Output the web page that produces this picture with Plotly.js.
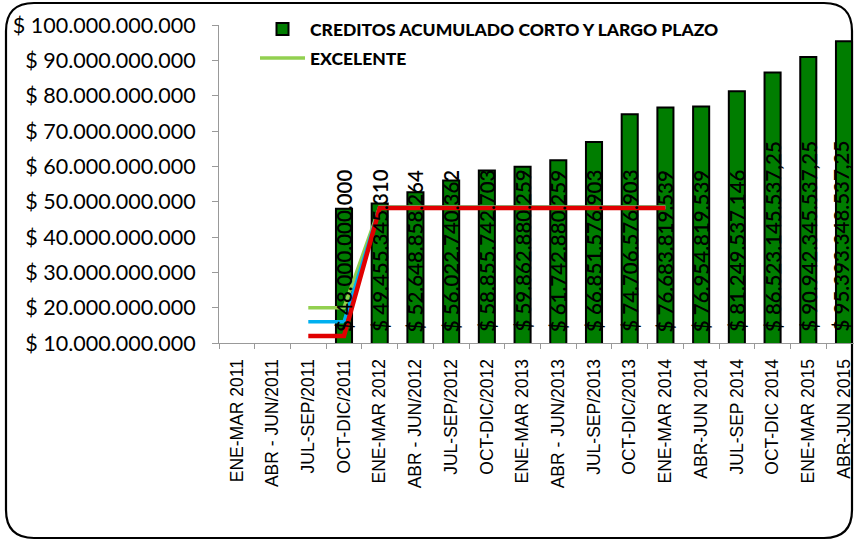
<!DOCTYPE html>
<html>
<head>
<meta charset="utf-8">
<script src="https://cdn.plot.ly/plotly-3.0.1.min.js"></script>
<style>
  body { margin: 0; background: #fff; }
  #chart { width: 854px; height: 540px; }
</style>
</head>
<body>
<div id="chart"></div>
<script>
// periodos (eje x)
const periodos = ["ENE-MAR 2011", "ABR - JUN/2011", "JUL-SEP/2011", "OCT-DIC/2011",
    "ENE-MAR 2012", "ABR - JUN/2012", "JUL-SEP/2012", "OCT-DIC/2012",
    "ENE-MAR 2013", "ABR - JUN/2013", "JUL-SEP/2013", "OCT-DIC/2013",
    "ENE-MAR 2014", "ABR-JUN 2014", "JUL-SEP 2014", "OCT-DIC 2014",
    "ENE-MAR 2015", "ABR-JUN 2015"];

// creditos acumulados corto y largo plazo (barras)
const creditos = [null, null, null, 48000000000,
    49455345310, 52648858264, 56022740362, 58855742703,
    59862880259, 61742880259, 66851576903, 74706576903,
    76683819539, 76954819539, 81249537146, 86523145537.25,
    90942345537.25, 95393348537.25];

// lineas de referencia (JUL-SEP/2011 a ENE-MAR 2014)
const periodosLinea = periodos.slice(2, 13);
const excelente = [20000000000, 20000000000, 48500000000, 48500000000, 48500000000, 48500000000,
    48500000000, 48500000000, 48500000000, 48500000000, 48500000000];
const bueno = [16000000000, 16000000000, 48350000000, 48350000000, 48350000000, 48350000000,
    48350000000, 48350000000, 48350000000, 48350000000, 48350000000];
const regular = [12000000000, 12000000000, 48200000000, 48200000000, 48200000000, 48200000000,
    48200000000, 48200000000, 48200000000, 48200000000, 48200000000];

// eje y
const yMin = 10000000000;
const yMax = 100000000000;
const yTicks = [10e9, 20e9, 30e9, 40e9, 50e9, 60e9, 70e9, 80e9, 90e9, 100e9];

// formato "$ 86.523.145.537,25"
function pesos(v) {
    let ent = Math.floor(v);
    let dec = Math.round((v - ent) * 100);
    let s = ent.toString().replace(/\B(?=(\d{3})+(?!\d))/g, ".");
    if (dec > 0) s += "," + (dec < 10 ? "0" + dec : dec);
    return "$ " + s;
}

const W = 854, H = 540;
const mL = 219, mR = 0, mT = 25, mB = 197;
const pw = W - mL - mR, ph = H - mT - mB;
// pixel -> paper
const px = (x) => (x - mL) / pw;
const py = (y) => (H - mB - y) / ph;

// marco redondeado del grafico
function marco(x0, y0, x1, y1, r) {
    return "M" + px(x0 + r) + "," + py(y0) +
        " L" + px(x1 - r) + "," + py(y0) +
        " Q" + px(x1) + "," + py(y0) + " " + px(x1) + "," + py(y0 + r) +
        " L" + px(x1) + "," + py(y1 - r) +
        " Q" + px(x1) + "," + py(y1) + " " + px(x1 - r) + "," + py(y1) +
        " L" + px(x0 + r) + "," + py(y1) +
        " Q" + px(x0) + "," + py(y1) + " " + px(x0) + "," + py(y1 - r) +
        " L" + px(x0) + "," + py(y0 + r) +
        " Q" + px(x0) + "," + py(y0) + " " + px(x0 + r) + "," + py(y0) + " Z";
}

// etiquetas de las barras (verticales, desde la base)
let etiquetas = [];
for (let i = 0; i < periodos.length; i++) {
    if (creditos[i] === null) continue;
    etiquetas.push({
        x: periodos[i], y: yMin, xref: 'x', yref: 'y',
        text: pesos(creditos[i]), textangle: -90,
        showarrow: false, xanchor: 'center', yanchor: 'bottom', yshift: 9,
        xshift: (i === periodos.length - 1) ? -4 : 0,  // la ultima queda pegada al borde
        font: { family: 'Lato, sans-serif', size: 20.5, color: '#000', weight: 600 }
    });
}

const data = [{
    type: 'bar',
    x: periodos,
    y: creditos,
    name: 'CREDITOS ACUMULADO CORTO Y LARGO PLAZO',
    marker: { color: '#007D00', line: { color: '#000', width: 2 } },
    legend: 'legend',
    hoverinfo: 'none'
}, {
    type: 'scatter', mode: 'lines',
    x: periodosLinea, y: excelente,
    name: 'EXCELENTE',
    line: { color: '#92D050', width: 3.5 },
    legend: 'legend2',
    hoverinfo: 'none'
}, {
    type: 'scatter', mode: 'lines',
    x: periodosLinea, y: bueno,
    name: 'BUENO', showlegend: false,
    line: { color: '#00B0F0', width: 3.5 },
    hoverinfo: 'none'
}, {
    type: 'scatter', mode: 'lines',
    x: periodosLinea, y: regular,
    name: 'REGULAR', showlegend: false,
    line: { color: '#E00000', width: 4.5 },
    hoverinfo: 'none'
}];

const legendFont = { family: 'Lato, sans-serif', size: 17.5, color: '#000', weight: 900 };

const layout = {
    width: W, height: H,
    margin: { l: mL, r: mR, t: mT, b: mB, pad: 0 },
    paper_bgcolor: '#fff', plot_bgcolor: '#fff',
    bargap: 0.55,
    showlegend: true,
    legend: {
        x: px(255), y: py(11), xanchor: 'left', yanchor: 'top',
        font: legendFont, itemwidth: 45, bgcolor: 'rgba(0,0,0,0)'
    },
    legend2: {
        x: px(255), y: py(40), xanchor: 'left', yanchor: 'top',
        font: legendFont, itemwidth: 45, bgcolor: 'rgba(0,0,0,0)'
    },
    xaxis: {
        type: 'category',
        range: [-0.5, 17.28],
        tickangle: -90,
        tickson: 'boundaries',
        ticks: 'outside', ticklen: 5, tickcolor: '#999',
        ticklabelstandoff: 8,
        showline: true, linecolor: '#999', linewidth: 1,
        showgrid: false, zeroline: false,
        tickfont: { family: '"Liberation Sans Narrow", "Liberation Sans", sans-serif', size: 17.5, color: '#000' }
    },
    yaxis: {
        range: [yMin, yMax],
        tickvals: yTicks,
        ticktext: yTicks.map(pesos),
        ticks: 'outside', ticklen: 6, tickcolor: '#999',
        ticklabelstandoff: 12,
        showline: true, linecolor: '#999', linewidth: 1,
        showgrid: false, zeroline: false,
        tickfont: { family: 'Lato, sans-serif', size: 21.5, color: '#000' }
    },
    annotations: etiquetas,
    shapes: [{
        type: 'path', xref: 'paper', yref: 'paper', layer: 'below',
        path: marco(6, 3, 852, 538, 28),
        line: { color: '#000', width: 2.2 }
    }]
};

Plotly.newPlot('chart', data, layout, { displayModeBar: false, staticPlot: true });
</script>
</body>
</html>
